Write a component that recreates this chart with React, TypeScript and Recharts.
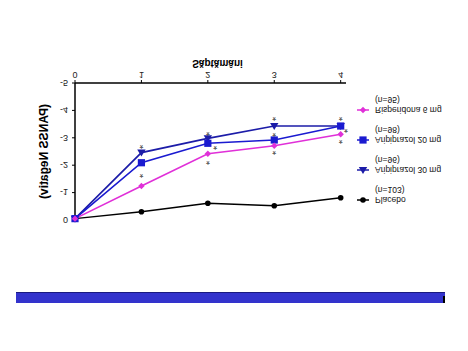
import React from 'react';
import { ComposedChart, Line, Scatter, XAxis, YAxis } from 'recharts';

const weeks = [0, 1, 2, 3, 4];
const placebo = [-0.05, -0.3, -0.61, -0.52, -0.81];
const ari30 = [-0.05, -2.46, -2.98, -3.43, -3.43];
const ari20 = [-0.05, -2.09, -2.8, -2.92, -3.43];
const risp = [-0.05, -1.24, -2.42, -2.71, -3.13];
const yTicks = [-5, -4, -3, -2, -1, 0];
const starX = [1, 1, 2, 2.11, 2, 3, 3, 3, 4, 4.08, 4];
const starY = [-2.68, -1.61, -3.16, -2.62, -2.09, -3.69, -3.1, -2.45, -3.69, -3.25, -2.85];

const seriesNames = ['Placebo', 'Aripiprazol 30 mg', 'Aripiprazol 20 mg', 'Risperidona 6 mg'];
const seriesN = ['(n=103)', '(n=96)', '(n=98)', '(n=95)'];
const seriesColors = ['#000000', '#1c1ca8', '#1a1ad0', '#e030d8'];
const seriesShapes = ['circle', 'triangle', 'square', 'diamond'];

const data = weeks.map((w, i) => ({ week: w, placebo: placebo[i], ari30: ari30[i], ari20: ari20[i], risp: risp[i] }));
const stars = starX.map((x, i) => ({ week: x, v: starY[i] }));

const FONT = '"Liberation Sans", Arial, sans-serif';

function Marker({ shape, color, cx, cy }: any) {
  if (cx == null || cy == null) return null;
  if (shape === 'circle') return <circle cx={cx} cy={cy} r={2.8} fill={color} stroke="none" />;
  if (shape === 'triangle')
    return <polygon points={`${cx},${cy - 4} ${cx - 4.2},${cy + 3} ${cx + 4.2},${cy + 3}`} fill={color} />;
  if (shape === 'square') return <rect x={cx - 3.6} y={cy - 3.6} width={7.2} height={7.2} fill={color} />;
  return <polygon points={`${cx},${cy - 3.2} ${cx + 3.2},${cy} ${cx},${cy + 3.2} ${cx - 3.2},${cy}`} fill={color} />;
}

const mkDot = (idx: number) => (p: any) => (
  <Marker key={`${idx}-${p.index}`} shape={seriesShapes[idx]} color={seriesColors[idx]} cx={p.cx} cy={p.cy} />
);

const Star = (p: any) => (
  <text x={p.cx} y={p.cy + 5.8} textAnchor="middle" fontSize={10} fill="#444" fontFamily={FONT}>*</text>
);

const LegendBox = () => (
  <div style={{ position: 'absolute', left: 357, top: 146, width: 110, fontFamily: FONT, fontSize: 8.5, color: '#111' }}>
    {seriesNames.map((n, i) => (
      <div key={n} style={{ height: 30, position: 'relative' }}>
        <div style={{ display: 'flex', alignItems: 'center', height: 10, lineHeight: '10px' }}>
          <svg width={12} height={10} style={{ marginRight: 6 }}>
            <line x1={0} y1={5} x2={12} y2={5} stroke={seriesColors[i]} strokeWidth={1.5} />
            <Marker shape={seriesShapes[i]} color={seriesColors[i]} cx={6} cy={5} />
          </svg>
          <span style={{ whiteSpace: 'nowrap' }}>{n}</span>
        </div>
        <div style={{ paddingLeft: 18, height: 10, lineHeight: '10px' }}>{seriesN[i]}</div>
      </div>
    ))}
  </div>
);

const keys = ['placebo', 'ari30', 'ari20', 'risp'];

export default function App() {
  return (
    <div style={{ position: 'absolute', left: 0, top: 0, width: 468, height: 351, background: '#fff', transform: 'scaleY(-1)' }}>
      <div style={{ position: 'absolute', left: 16, top: 48, width: 429, height: 10, background: '#3333cc', borderBottom: '1px solid #1a1a80' }} />
      <div style={{ position: 'absolute', left: 443, top: 48, width: 2, height: 7, background: '#000' }} />
      <div style={{ position: 'absolute', left: 0, top: 0 }}>
        <ComposedChart width={468} height={351} data={data} margin={{ top: 131, right: 122, bottom: 53, left: 0 }}>
          <XAxis
            dataKey="week"
            type="number"
            domain={[0, 4]}
            ticks={weeks}
            height={30}
            axisLine={{ stroke: '#000', strokeWidth: 1.5 }}
            tickLine={{ stroke: '#000' }}
            tickSize={3}
            tickMargin={2}
            tick={{ fontSize: 9, fill: '#222', fontFamily: FONT }}
            label={{
              content: (props: any) => {
                const vb = props.viewBox || {};
                const x = (vb.x || 0) + (vb.width || 0) / 2 + 7;
                const y = (vb.y || 0) + 20;
                return (
                  <text x={x} y={y} textAnchor="middle" dominantBaseline="central" fontSize={10} fontWeight="bold" fontFamily={FONT} fill="#000">
                    Săptămâni
                  </text>
                );
              },
            }}
          />
          <YAxis
            type="number"
            domain={[-5, 0]}
            ticks={yTicks}
            width={75}
            axisLine={{ stroke: '#000', strokeWidth: 1.5 }}
            tickLine={{ stroke: '#000' }}
            tickSize={3}
            tickMargin={4}
            tick={{ fontSize: 9, fill: '#222', fontFamily: FONT }}
            label={{
              content: (props: any) => {
                const vb = props.viewBox || {};
                const x = (vb.x || 0) + 44;
                const y = (vb.y || 0) + (vb.height || 0) / 2;
                return (
                  <text x={x} y={y} transform={`rotate(-90 ${x} ${y})`} textAnchor="middle" dominantBaseline="central" fontSize={12} fontWeight="bold" fontFamily={FONT} fill="#000">
                    (PANSS Negativ)
                  </text>
                );
              },
            }}
          />
          {keys.map((k, i) => (
            <Line
              key={k}
              dataKey={k}
              name={seriesNames[i]}
              stroke={seriesColors[i]}
              strokeWidth={i === 0 ? 1.4 : 1.6}
              dot={mkDot(i)}
              activeDot={false}
              isAnimationActive={false}
            />
          ))}
          <Scatter data={stars} dataKey="v" shape={Star} isAnimationActive={false} legendType="none" />
        </ComposedChart>
      </div>
      <LegendBox />
    </div>
  );
}
